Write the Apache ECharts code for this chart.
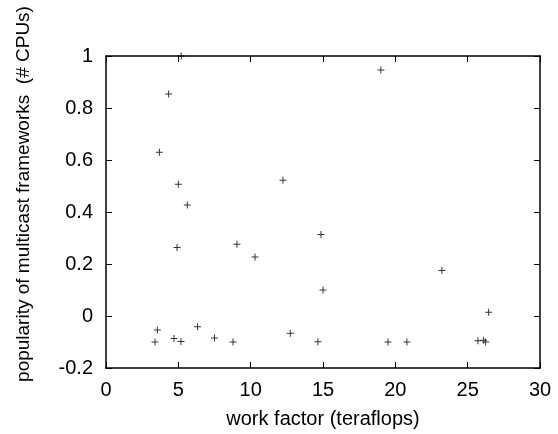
<!DOCTYPE html>
<html>
<head>
<meta charset="utf-8">
<script src="https://cdn.jsdelivr.net/npm/echarts@6/dist/echarts.min.js"></script>
<style>
html, body { margin: 0; padding: 0; background: #fff; }
#chart { width: 558px; height: 434px; }
</style>
</head>
<body>
<div id="chart"></div>
<script>
// work factor (teraflops)
var workFactor = [5.2, 4.33, 3.69, 5.0, 5.62, 12.23, 4.91, 9.05, 10.3, 3.55, 3.39, 4.7, 5.18, 6.33,
	7.5, 8.78, 12.74, 19.0, 14.86, 15.0, 14.65, 19.49, 20.8, 23.22, 26.45, 25.71, 26.1, 26.24];
// popularity of multicast frameworks (# CPUs)
var popularity = [1.0, 0.854, 0.63, 0.507, 0.427, 0.522, 0.263, 0.276, 0.227, -0.054, -0.1, -0.087, -0.098, -0.041,
	-0.085, -0.1, -0.066, 0.946, 0.313, 0.1, -0.099, -0.1, -0.1, 0.175, 0.014, -0.095, -0.093, -0.1];
var xTicks = [0, 5, 10, 15, 20, 25, 30];
var yTicks = [-0.2, 0, 0.2, 0.4, 0.6, 0.8, 1];

var points = [];
for (var i = 0; i < workFactor.length; i++) {
	points.push([workFactor[i], popularity[i]]);
}

var font = 'Liberation Sans, Arial, sans-serif';
var dom = document.getElementById('chart');
var myChart = echarts.init(dom, null, {renderer: 'canvas'});

var tickStyle = {show: true, inside: true, length: 6, lineStyle: {color: '#000', width: 1}};
var lineStyle = {show: true, onZero: false, lineStyle: {color: '#000', width: 1.5}};

option = {
	animation: false,
	backgroundColor: '#fff',
	grid: {left: 106, right: 18, top: 56, bottom: 62},
	graphic: [
		{
			type: 'text',
			x: 24, y: 194,
			rotation: Math.PI / 2,
			style: {
				text: 'popularity of multicast frameworks  (# CPUs)',
				font: '19px ' + font,
				fill: '#000',
				align: 'center',
				verticalAlign: 'middle'
			}
		}
	],
	xAxis: [
		{
			type: 'value',
			position: 'bottom',
			min: xTicks[0], max: xTicks[xTicks.length - 1], interval: 5,
			name: 'work factor (teraflops)',
			nameLocation: 'middle',
			nameGap: 41,
			nameTextStyle: {fontFamily: font, fontSize: 20, color: '#000'},
			axisLine: lineStyle,
			axisTick: tickStyle,
			splitLine: {show: false},
			axisLabel: {fontFamily: font, fontSize: 20, color: '#000', margin: 12}
		},
		{
			type: 'value',
			position: 'top',
			min: xTicks[0], max: xTicks[xTicks.length - 1], interval: 5,
			axisLine: lineStyle,
			axisTick: tickStyle,
			splitLine: {show: false},
			axisLabel: {show: false}
		}
	],
	yAxis: [
		{
			type: 'value',
			position: 'left',
			min: yTicks[0], max: yTicks[yTicks.length - 1], interval: 0.2,
			axisLine: lineStyle,
			axisTick: tickStyle,
			splitLine: {show: false},
			axisLabel: {fontFamily: font, fontSize: 20, color: '#000', margin: 13}
		},
		{
			type: 'value',
			position: 'right',
			min: yTicks[0], max: yTicks[yTicks.length - 1], interval: 0.2,
			axisLine: lineStyle,
			axisTick: tickStyle,
			splitLine: {show: false},
			axisLabel: {show: false}
		}
	],
	series: [
		{
			type: 'scatter',
			xAxisIndex: 0,
			yAxisIndex: 0,
			data: points,
			symbol: 'path://M3,0 h1 v3 h3 v1 h-3 v3 h-1 v-3 h-3 v-1 h3 z',
			symbolSize: 7,
			itemStyle: {color: '#000'}
		}
	]
};
myChart.setOption(option, true);
</script>
</body>
</html>
